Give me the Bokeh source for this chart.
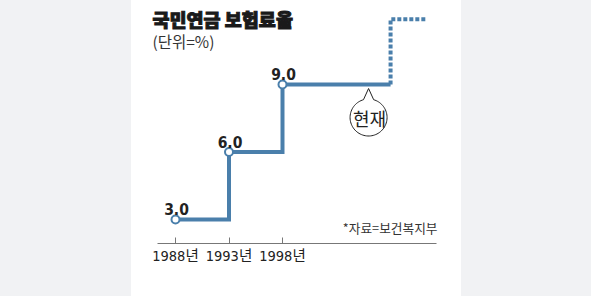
import numpy as np
from bokeh.plotting import figure
from bokeh.models import FixedTicker, Spacer, Label
from bokeh.layouts import row
from bokeh.core.properties import value
from bokeh.embed import file_html
from bokeh.resources import INLINE

# ---- data ----
years = [1988, 1993, 1998]
rates = [3.0, 6.0, 9.0]
rate_labels = ["3.0", "6.0", "9.0"]
tick_labels = ["1988년", "1993년", "1998년"]
current_year = 2008.1
future_end_year = 2011.5
future_rate = 11.9

title_text = "국민연금 보험료율"
unit_text = "(단위=%)"
source_text = "*자료=보건복지부"
now_text = "현재"

# ---- geometry ----
BLUE = "#4a7fab"
GRAY_BG = "#f1f2f4"
LEFT_PAD = 131
FIG_W, FIG_H = 330, 296
FRAME_H = 243
SX = 10.7   # px per year
SY = 22.5   # px per rate unit
x_start = 1988 - (175 - LEFT_PAD) / SX
x_end = x_start + FIG_W / SX
y_start = 3 - (FRAME_H - 219) / SY
y_end = y_start + FRAME_H / SY


def px2x(px):
    return x_start + (px - LEFT_PAD) / SX


def py2y(py):
    return y_end - py / SY


NUM_FONT = "'DejaVu Sans Condensed', 'Liberation Sans Narrow', 'Noto Sans CJK KR', sans-serif"
KR_FONT = "'Noto Sans CJK KR', sans-serif"
KR_BLACK = "'Noto Sans CJK KR Black', 'Noto Sans CJK KR', sans-serif"

p = figure(width=FIG_W, height=FIG_H, x_range=(x_start, x_end), y_range=(y_start, y_end),
           min_border=0, min_border_bottom=FIG_H - FRAME_H, toolbar_location=None,
           output_backend="svg", y_axis_location=None)
p.outline_line_color = None
p.xgrid.grid_line_color = None
p.ygrid.grid_line_color = None
p.background_fill_color = "white"
p.border_fill_color = "white"

# axis
ax = p.xaxis[0]
ax.ticker = FixedTicker(ticks=years)
ax.major_label_overrides = {y: t for y, t in zip(years, tick_labels)}
ax.bounds = (px2x(157), px2x(436))
ax.axis_line_color = "#777777"
ax.axis_line_width = 1
ax.major_tick_line_color = "#777777"
ax.major_tick_in = 6
ax.major_tick_out = 0
ax.minor_tick_line_color = None
ax.major_label_standoff = 4
ax.major_label_text_font = NUM_FONT
ax.major_label_text_font_size = "14.5px"
ax.major_label_text_color = "#222222"

# step line
sx_vals = years + [current_year]
sy_vals = rates + [rates[-1]]
p.step(sx_vals, sy_vals, mode="after", line_width=4, line_color=BLUE, line_join="miter")

# dashed future
p.line([current_year, current_year, future_end_year], [rates[-1], future_rate, future_rate],
       line_width=4, line_color=BLUE, line_dash="4 2")

# markers
p.scatter(years, rates, size=8, fill_color="white", line_color=BLUE, line_width=2)

# value labels
p.text(years, rates, text=rate_labels, text_align="center", text_baseline="alphabetic",
       x_offset=1, y_offset=-10.5, text_font=value(NUM_FONT), text_font_style="bold",
       text_font_size="15.5px", text_color="#222222")

# "현재" bubble
tip_x_px = (current_year - 1988) * SX + 175 - 22
tip_y_px = 219 - (rates[-1] - 3) * SY + 4
cx_px, cy_px, r_px = tip_x_px, tip_y_px + 29, 18.5
theta = np.radians(np.linspace(106, 434, 80))
bx = list(cx_px + r_px * np.cos(theta)) + [tip_x_px]
by = list(cy_px - r_px * np.sin(theta)) + [tip_y_px]
p.patch([px2x(v) for v in bx], [py2y(v) for v in by], fill_color="white",
        line_color="#222222", line_width=1)
p.text([px2x(cx_px + 1)], [py2y(cy_px)], text=[now_text], text_align="center",
       text_baseline="middle", text_font=value(KR_FONT), text_font_size="18px",
       text_color="#222222")

# titles and source
p.add_layout(Label(x=px2x(152), y=py2y(5), text=title_text, text_baseline="top",
                   text_font=KR_BLACK, text_font_style="bold", text_font_size="18.5px",
                   text_color="#1a1a1a", text_outline_color="#1a1a1a"))
p.add_layout(Label(x=px2x(152), y=py2y(29), text=unit_text, text_baseline="top",
                   text_font=KR_FONT, text_font_size="15.5px", text_color="#333333"))
p.add_layout(Label(x=px2x(437), y=py2y(226.5), text=source_text, text_align="right",
                   text_baseline="middle", text_font=KR_FONT, text_font_size="12.7px",
                   text_color="#333333"))

left = Spacer(width=LEFT_PAD, height=FIG_H, styles={"background-color": GRAY_BG})
right = Spacer(width=591 - LEFT_PAD - FIG_W, height=FIG_H, styles={"background-color": GRAY_BG})
layout = row(left, p, right, spacing=0)

open("out.html", "w").write(file_html(layout, INLINE))
